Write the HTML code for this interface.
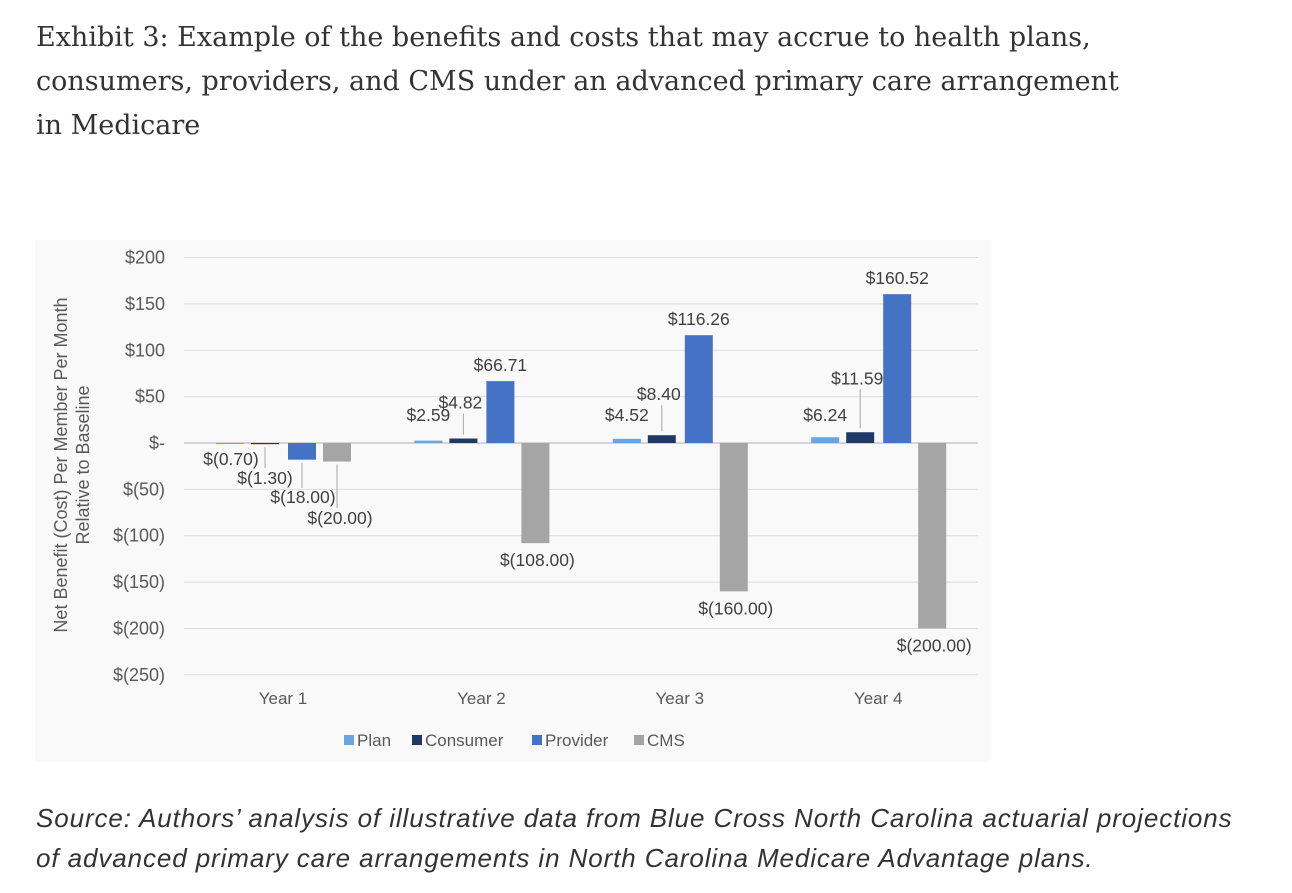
<!DOCTYPE html>
<html><head><meta charset="utf-8"><style>
body{margin:0;width:1292px;height:893px;background:#fff;overflow:hidden;font-family:"Liberation Sans",sans-serif}
#title{position:absolute;left:36px;top:16px;width:1250px;white-space:nowrap;font-family:"DejaVu Serif","Liberation Serif",serif;font-size:27px;line-height:44px;color:#333}
#source{position:absolute;left:36px;top:798px;font-style:italic;font-size:26px;letter-spacing:0.9px;line-height:40px;color:#333;white-space:nowrap}
svg{position:absolute;left:0;top:0}
</style></head><body>
<div id="title">Exhibit 3: Example of the benefits and costs that may accrue to health plans,<br>consumers, providers, and CMS under an advanced primary care arrangement<br>in Medicare</div>
<svg id="chart" width="1292" height="893"></svg>
<div id="source">Source: Authors’ analysis of illustrative data from Blue Cross North Carolina actuarial projections<br>of advanced primary care arrangements in North Carolina Medicare Advantage plans.</div>
<script>
const categories=["Year 1","Year 2","Year 3","Year 4"];
const seriesNames=["Plan","Consumer","Provider","CMS"];
const plan=[-0.70,2.59,4.52,6.24];
const consumer=[-1.30,4.82,8.40,11.59];
const provider=[-18.00,66.71,116.26,160.52];
const cms=[-20.00,-108.00,-160.00,-200.00];
const tickValues=[200,150,100,50,0,-50,-100,-150,-200,-250];
const tickLabels=["$200","$150","$100","$50","$-","$(50)","$(100)","$(150)","$(200)","$(250)"];
const colors=["#6aa5e0","#1f3864","#4472c4","#a5a5a5"];
const svg=document.getElementById('chart');
const NS='http://www.w3.org/2000/svg';
function mk(t,a,p){const e=document.createElementNS(NS,t);for(const k in a)e.setAttribute(k,a[k]);(p||svg).appendChild(e);return e;}
const y=v=>443-v*0.9272;
const xc=i=>283+i*198.4;
const offs=[-53,-18,19,54];const bw=28;
const fmt=v=>v<0?"$("+Math.abs(v).toFixed(2)+")":"$"+v.toFixed(2);
const consOff=[0,-30,-35,-48];
const y1LabelY=[465,484,503,524];
const y1LabelDx=[1,0,1,3];
const y1LeadBot=[0,468,488,508];
let bg=mk('rect',{x:35,y:240,width:955,height:522,fill:'#f9f9f9'});


tickValues.forEach((v,i)=>{
 let l=mk('line',{x1:184,x2:978,y1:y(v),y2:y(v),stroke:v===0?'#c8c8c8':'#dcdcdc','stroke-width':v===0?1.5:1});
 
 
 let t=mk('text',{x:165,y:y(v)+6,'text-anchor':'end','font-size':18,fill:'#595959'});
 t.textContent=tickLabels[i];
 
 
});
let at=mk('text',{transform:'translate(67,465) rotate(-90)','text-anchor':'middle','font-size':18,fill:'#595959'});


mk('tspan',{x:0,dy:0},at).textContent="Net Benefit (Cost) Per Member Per Month";
mk('tspan',{x:0,dy:22},at).textContent="Relative to Baseline";
const all=[plan,consumer,provider,cms];
all.forEach((arr,s)=>{arr.forEach((v,i)=>{
 const cx=xc(i)+offs[s];
 let r=mk('rect',{x:cx-bw/2,y:Math.min(y(v),y(0)),width:bw,height:Math.max(Math.abs(y(v)-y(0)),1),fill:colors[s]});
 
 
 let px,py,lead=null;
 if(i===0){px=cx+y1LabelDx[s];py=y1LabelY[s];if(s>0)lead=[Math.max(y(v),y(0))+3,y1LeadBot[s]];}
 else if(s===2){px=cx;py=y(v)-10;}
 else if(s===3){px=cx+2;py=y(v)+23;}
 else if(s===0){px=cx;py=421;}
 else {px=cx-3;py=y(v)+consOff[i];lead=[py+5,y(v)-4];}
 if(lead){
  let ln=mk('line',{x1:cx,x2:cx,y1:lead[0],y2:lead[1],stroke:'#a6a6a6','stroke-width':1});
  
  
 }
 let t=mk('text',{x:px,y:py,'text-anchor':'middle','font-size':17.5,fill:'#404040'});
 t.textContent=fmt(v);
 
 
});});
categories.forEach((c,i)=>{
 let t=mk('text',{x:xc(i),y:704,'text-anchor':'middle','font-size':17,fill:'#595959'});
 t.textContent=c;
 
 
});
const lx=[344,412,532,634];
seriesNames.forEach((n,s)=>{
 let g=mk('g',{});
 
 
 mk('rect',{x:lx[s],y:735,width:10,height:10,fill:colors[s]},g);
 let t=mk('text',{x:lx[s]+13,y:746,'font-size':17,fill:'#595959'},g);
 t.textContent=n;
});
</script>
</body></html>
